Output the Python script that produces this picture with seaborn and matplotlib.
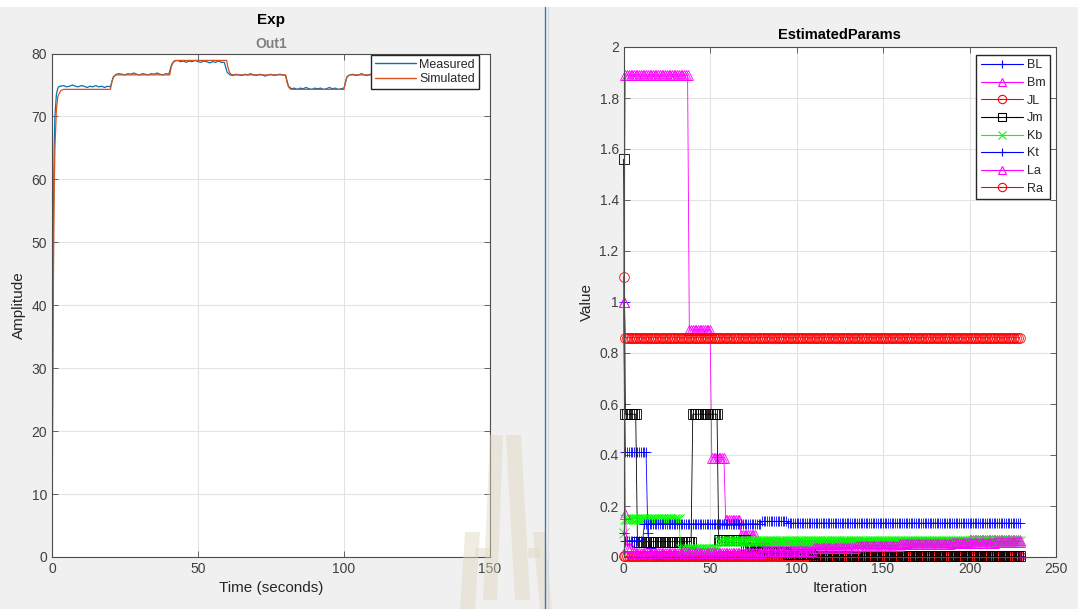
import numpy as np
import seaborn as sns
import matplotlib.pyplot as plt
from matplotlib.patches import Polygon, Rectangle
from matplotlib.lines import Line2D
from matplotlib.ticker import MultipleLocator, FuncFormatter

# ---------------- left panel: Exp / Out1 ----------------
meas_time_start = [0, 0.25, 0.5, 0.75, 1, 1.5, 2, 2.5]
meas_start = [0, 35, 55, 65, 70, 73.5, 74.5, 74.8]
# measured output, one sample per second from t = 3 to t = 120
meas_seg1 = [74.8, 74.9, 74.7, 74.8, 75.0, 74.8, 74.7, 74.9, 74.8, 74.6,
             74.8, 74.7, 74.9, 74.7, 74.8, 74.6, 74.8, 74.7]
meas_seg2 = [76.3, 76.7, 76.8, 76.7, 76.6, 76.8, 76.7, 76.9, 76.7, 76.6,
             76.8, 76.7, 76.6, 76.8, 76.7, 76.9, 76.7, 76.6, 76.8, 76.7]
meas_seg3 = [78.3, 78.8, 78.9, 78.7, 78.8, 78.6, 78.8, 78.7, 78.9, 78.7,
             78.6, 78.8, 78.7, 78.5, 78.7, 78.6, 78.8, 78.6, 78.6, 77.0]
meas_seg4 = [76.6, 76.5, 76.7, 76.6, 76.5, 76.7, 76.6, 76.8, 76.6, 76.5,
             76.7, 76.6, 76.4, 76.6, 76.7, 76.5, 76.6, 76.7, 76.6, 76.5]
meas_seg5 = [74.8, 74.4, 74.5, 74.3, 74.5, 74.4, 74.6, 74.4, 74.3, 74.5,
             74.4, 74.5, 74.3, 74.4, 74.6, 74.4, 74.5, 74.3, 74.4, 74.5]
meas_seg6 = [76.3, 76.6, 76.7, 76.5, 76.6, 76.8, 76.6, 76.5, 76.7, 76.6,
             76.4, 76.1, 76.5, 76.7, 76.6, 76.5, 76.7, 76.6, 76.5, 76.6]

sim_time = [0, 0.25, 0.5, 0.75, 1, 1.5, 2, 3, 4,
            20, 20.5, 21, 21.5, 22,
            40.3, 40.8, 41.3, 41.8, 42.3,
            59.8, 60.3, 60.8, 61.3, 62,
            80, 80.5, 81, 81.5, 82,
            100, 100.5, 101, 101.5, 102, 120]
sim_values = [0, 25, 45, 58, 65, 71, 73.2, 74.1, 74.3,
              74.3, 75.5, 76.2, 76.5, 76.6,
              76.6, 77.8, 78.5, 78.8, 78.9,
              78.9, 77.7, 77.0, 76.7, 76.6,
              76.6, 75.4, 74.7, 74.4, 74.3,
              74.3, 75.5, 76.2, 76.5, 76.6, 76.6]

# ---------------- right panel: EstimatedParams ----------------
n_iter = 230
param_names = ['BL', 'Bm', 'JL', 'Jm', 'Kb', 'Kt', 'La', 'Ra']
# each parameter: iteration where a new value starts, and that value
bl_start = [0, 1, 14, 15, 17]
bl_value = [1.0, 0.41, 0.095, 0.035, 0.003]
bm_start = [0, 1, 38, 51, 59, 68, 77, 95, 125, 165, 200]
bm_value = [1.0, 1.89, 0.89, 0.39, 0.145, 0.085, 0.055, 0.05, 0.055, 0.06, 0.065]
jl_start = [0]
jl_value = [0.005]
jm_start = [0, 1, 8, 40, 55, 71, 82, 95, 110]
jm_value = [1.56, 0.56, 0.06, 0.56, 0.065, 0.035, 0.02, 0.01, 0.003]
kb_start = [0, 1, 33, 55]
kb_value = [0.094, 0.15, 0.033, 0.064]
kt_start = [0, 1, 12, 80, 95]
kt_value = [0.094, 0.064, 0.13, 0.14, 0.133]
la_start = [0, 1, 2, 5, 80, 110, 135, 160, 190, 215]
la_value = [1.0, 0.17, 0.04, 0.015, 0.025, 0.035, 0.045, 0.05, 0.055, 0.06]
ra_start = [0, 1]
ra_value = [1.1, 0.86]


def expand(starts, values):
    lengths = np.diff(starts + [n_iter])
    return np.repeat(values, lengths)


series = {
    'BL': expand(bl_start, bl_value),
    'Bm': expand(bm_start, bm_value),
    'JL': expand(jl_start, jl_value),
    'Jm': expand(jm_start, jm_value),
    'Kb': expand(kb_start, kb_value),
    'Kt': expand(kt_start, kt_value),
    'La': expand(la_start, la_value),
    'Ra': expand(ra_start, ra_value),
}
styles = {
    'BL': ('#0000ff', '+'), 'Bm': ('#ff00ff', '^'), 'JL': ('#ff0000', 'o'),
    'Jm': ('#000000', 's'), 'Kb': ('#00ff00', 'x'), 'Kt': ('#0000ff', '+'),
    'La': ('#ff00ff', '^'), 'Ra': ('#ff0000', 'o'),
}

sns.set_theme(style='white')
plt.rcParams['font.family'] = ['Liberation Sans', 'DejaVu Sans']

W, H = 1078, 609
fig = plt.figure(figsize=(W / 100, H / 100), dpi=100, facecolor='#f0f0f0')

ax1 = fig.add_axes([52 / W, 52 / H, 438 / W, 503.5 / H])
ax2 = fig.add_axes([623.6 / W, 52 / H, 432.4 / W, 510 / H])

meas_time = meas_time_start + list(range(3, 121))
meas_values = meas_start + meas_seg1 + meas_seg2 + meas_seg3 + meas_seg4 + meas_seg5 + meas_seg6

sns.lineplot(x=meas_time, y=meas_values, ax=ax1, color='#0072BD', lw=0.9,
             estimator=None, legend=False)
sns.lineplot(x=sim_time, y=sim_values, ax=ax1, color='#D95319', lw=0.9,
             estimator=None, legend=False)

iters = np.arange(n_iter)
handles = []
for name in param_names:
    col, mk = styles[name]
    sns.lineplot(x=iters, y=series[name], ax=ax2, color=col, marker=mk,
                 mec=col, mfc='none', ms=7, mew=0.6, lw=0.6,
                 estimator=None, clip_on=False, legend=False)
    handles.append(Line2D([], [], color=col, lw=0.8, marker=mk, mec=col,
                          mfc='none', ms=6, mew=0.8, label=name))

fmt = FuncFormatter(lambda v, p: f'{v:g}')
for ax in (ax1, ax2):
    ax.set_facecolor('white')
    ax.grid(True, color='#e3e3e3', lw=0.8)
    ax.set_axisbelow(True)
    for s in ax.spines.values():
        s.set_color('#4d4d4d')
        s.set_linewidth(0.8)
    ax.tick_params(direction='in', length=4, width=0.6, color='#4d4d4d',
                   labelsize=10, labelcolor='#404040', top=True, right=True,
                   bottom=True, left=True)
    ax.yaxis.set_major_formatter(fmt)

ax1.set_xlim(0, 150)
ax1.set_ylim(0, 80)
ax1.xaxis.set_major_locator(MultipleLocator(50))
ax1.yaxis.set_major_locator(MultipleLocator(10))
ax1.set_xlabel('Time (seconds)', fontsize=11, color='#262626')
ax1.set_ylabel('Amplitude', fontsize=11, color='#262626')
ax1.set_title('Out1', fontsize=10, fontweight='bold', color='#808080', pad=4)
left_handles = [Line2D([], [], color='#0072BD', lw=1.0, label='Measured'),
                Line2D([], [], color='#D95319', lw=1.0, label='Simulated')]
ax1.legend(handles=left_handles, loc='upper right',
           bbox_to_anchor=(1 - 11 / 438, 1 - 1.5 / 503.5),
           borderaxespad=0, fontsize=9, frameon=True, fancybox=False,
           edgecolor='#262626', framealpha=1, handlelength=3.3,
           labelspacing=0.2, borderpad=0.3, handletextpad=0.3)

ax2.set_xlim(0, 250)
ax2.set_ylim(0, 2)
ax2.xaxis.set_major_locator(MultipleLocator(50))
ax2.yaxis.set_major_locator(MultipleLocator(0.2))
ax2.set_xlabel('Iteration', fontsize=11, color='#262626')
ax2.set_ylabel('Value', fontsize=11, color='#262626')
ax2.set_title('EstimatedParams', fontsize=10.5, fontweight='bold', color='#000000', pad=6)
ax2.legend(handles=handles, loc='upper right',
           bbox_to_anchor=(1 - 6 / 432.4, 1 - 8 / 510),
           borderaxespad=0, fontsize=9, frameon=True, fancybox=False,
           edgecolor='#262626', framealpha=1, handlelength=3.4,
           labelspacing=0.45, borderpad=0.35, handletextpad=0.3)

fig.text(271 / W, 1 - 20 / H, 'Exp', ha='center', va='center',
         fontsize=11, fontweight='bold', color='#000000')

# white strip on top of the screenshot
fig.add_artist(Rectangle((0, 1 - 7 / H), 1, 7 / H, transform=fig.transFigure,
                         facecolor='white', edgecolor='none', zorder=1))


def px(points):
    return [(x / W, 1 - y / H) for x, y in points]


# faint logo watermark
logo = [
    [(490, 435), (503, 435), (497, 600), (483, 600)],
    [(506, 435), (521, 435), (530, 600), (515, 600)],
    [(465, 532), (480, 532), (475, 609), (460, 609)],
    [(533, 532), (545, 532), (552, 609), (540, 609)],
    [(475, 548), (490, 548), (490, 557), (475, 557)],
    [(528, 548), (540, 548), (540, 558), (528, 558)],
]
for poly in logo:
    fig.add_artist(Polygon(px(poly), closed=True, transform=fig.transFigure,
                           facecolor='#e2d6bf', edgecolor='none', alpha=0.45, zorder=5))

# window divider
fig.add_artist(Line2D([544.5 / W, 544.5 / W], [0, 1 - 7 / H], transform=fig.transFigure,
                      color='#3a78b5', lw=1.0, zorder=6))
fig.add_artist(Line2D([547.5 / W, 547.5 / W], [0, 1 - 7 / H], transform=fig.transFigure,
                      color='#d8d8d8', lw=0.8, zorder=6))

fig.savefig('out.png', dpi=100, facecolor=fig.get_facecolor())
